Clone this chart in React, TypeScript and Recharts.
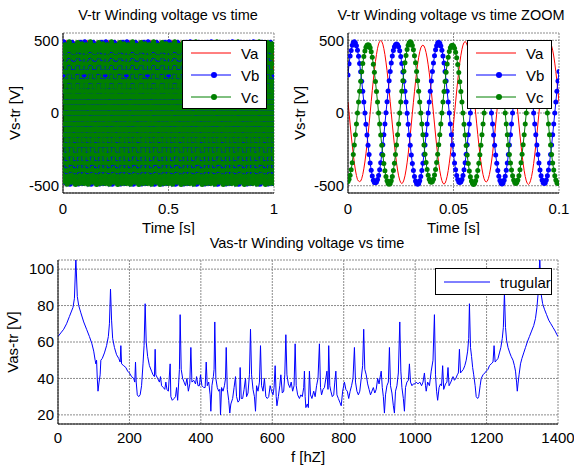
import { LineChart, Line, XAxis, YAxis, CartesianGrid, Legend } from "recharts";

// phase voltages, one sample every 0.5 ms over 0..0.1 s
const Va = [
  76, 0, -76, -150, -220, -285, -343, -392, -430, -458, -468, -472, -468, -451, -423, -384, -337, -281, -217, -148,
  -75, 0, 78, 154, 226, 293, 353, 403, 445, 475, 492,
  498, 492, 473, 442, 401, 350, 291, 225, 153, 78, 0, -76, -150, -220, -285, -343, -392, -432, -461, -479,
  -485, -479, -461, -432, -392, -343, -285, -220, -150, -76, 0, 74, 146, 215, 279, 336, 383, 421, 448, 462,
  466, 461, 444, 416, 378, 331, 276, 213, 145, 74, 0, -76, -151, -222, -287, -346, -396, -436, -465, -483,
  -489, -483, -464, -435, -395, -345, -287, -221, -150, -76, 0, 76, 151, 222, 288, 347, 397, 437, 467, 485,
  491, 485, 466, 437, 397, 347, 289, 223, 152, 77, 0, -75, -147, -216, -280, -337, -385, -424, -452, -469,
  -474, -469, -452, -424, -385, -337, -280, -216, -147, -75, 0, 77, 151, 223, 289, 347, 397, 437, 466, 484,
  490, 484, 466, 436, 396, 346, 288, 222, 151, 76, 0, -76, -151, -222, -288, -347, -397, -437, -467, -485,
  -491, -485, -466, -437, -397, -346, -288, -222, -151, -76, 0, 76, 150, 220, 285, 343, 392, 432, 461, 479,
  485, 479, 461, 432, 392, 343, 285, 220, 150, 76,
];
const Vb = [
  262, 338, 392, 430, 466, 484,
  490, 481, 462, 431, 390, 341, 283, 218, 149, 75, 0, -77, -151, -221, -286, -344, -393, -433, -462, -477,
  -479, -475, -458, -430, -391, -342, -284, -219, -150, -76, 1, 77, 151, 221, 286, 344, 392, 430, 456, 470,
  474, 470, 456, 428, 389, 340, 282, 218, 149, 75, -1, -78, -152, -222, -288, -347, -396, -437, -467, -485,
  -490, -484, -465, -436, -395, -345, -286, -220, -149, -75, 0, 76, 150, 220, 285, 343, 393, 434, 463, 481,
  486, 480, 461, 432, 392, 343, 285, 220, 150, 76, 0, -76, -150, -220, -285, -343, -391, -430, -458, -474,
  -478, -473, -457, -429, -390, -342, -284, -219, -150, -76, 0, 75, 148, 217, 281, 338, 386, 425, 452, 466,
  470, 466, 452, 425, 386, 338, 281, 217, 148, 75, 0, -76, -151, -222, -288, -346, -395, -435, -464, -482,
  -488, -482, -463, -434, -393, -344, -286, -220, -150, -76, 0, 76, 150, 220, 285, 344, 393, 433, 463, 481,
  487, 481, 462, 433, 393, 344, 286, 221, 150, 76, 0, -76, -150, -220, -285, -343, -392, -432, -461, -479,
  -485, -479, -461, -432, -392, -343, -285, -220, -150, -76, 0, 76, 150, 220, 285,
];
const Vc = [
  -471, -455, -428, -390, -342, -285, -220, -150, -76, 0, 76, 150, 219, 283, 340, 388, 426, 452, 466,
  470, 465, 449, 421, 383, 336, 280, 216, 147, 75, 0, -76, -151, -222, -288, -347, -397, -437, -466, -485,
  -490, -484, -465, -436, -395, -345, -286, -220, -149, -75, 0, 76, 150, 221, 287, 346, 396, 436, 465, 483,
  489, 483, 464, 435, 394, 345, 286, 221, 150, 76, 0, -76, -150, -220, -284, -341, -389, -428, -456, -472,
  -476, -471, -455, -427, -388, -340, -283, -219, -149, -76, 0, 75, 148, 217, 281, 337, 384, 422, 449, 463,
  466, 461, 445, 418, 380, 334, 278, 215, 147, 75, 0, -77, -152, -223, -289, -348, -398, -438, -467, -485,
  -491, -485, -466, -437, -396, -346, -287, -221, -150, -76, 0, 76, 150, 220, 285, 343, 392, 432, 461, 479,
  485, 479, 461, 432, 392, 343, 285, 220, 150, 76, 0, -76, -150, -220, -285, -343, -392, -432, -461, -478,
  -484, -478, -460, -431, -391, -342, -284, -219, -149, -76, 0, 76, 149, 219, 283, 340, 388, 427, 455, 471,
  476, 470, 453, 425, 386, 338, 281, 217, 148, 75, 0, -76, -150, -220, -285, -343, -392, -432, -461, -479,
  -485, -479,
];
const SAMPLE_STEP = 0.0005;

// spectrum of Vas: [frequency Hz, amplitude V]
const spectrumPts: [number, number][] = [
  [0, 63], [8, 65], [16, 67], [24, 70], [32, 74], [38, 77], [42, 79], [46, 84], [50, 106], [54, 85], [58, 80],
  [64, 76], [72, 71], [80, 67], [88, 63], [95, 59], [100, 55], [104, 50], [106, 48], [108, 50], [110, 40], [112, 33],
  [115, 38], [118, 42], [120, 50], [124, 51], [130, 54], [136, 58], [141, 63], [144, 70], [147, 89], [150, 72],
  [153, 62], [158, 57], [164, 53], [170, 51], [174, 49], [176, 58], [178, 48], [184, 47], [190, 46], [195, 44],
  [200, 43], [206, 41], [212, 40], [215, 38], [217, 49], [219, 38], [222, 31], [226, 30], [230, 31], [234, 36],
  [238, 48], [241, 58], [244, 81], [247, 60], [251, 52], [256, 47], [262, 44], [266, 42], [270, 41], [272, 56],
  [274, 42], [279, 40], [284, 38], [287, 41], [290, 36], [295, 35], [299, 34], [302, 38], [305, 34], [309, 33],
  [314, 48], [316, 30], [320, 28], [325, 29], [329, 30], [332, 35], [335, 28], [338, 38], [340, 45], [342, 75],
  [345, 45], [349, 40], [353, 38], [357, 36], [361, 40], [365, 33], [369, 37], [372, 57], [375, 38], [380, 39],
  [385, 37], [388, 41], [392, 36], [396, 36], [399, 42], [403, 36], [408, 35], [412, 35], [415, 49], [418, 36],
  [422, 38], [426, 31], [428, 22], [431, 36], [435, 41], [437, 45], [439, 71], [442, 40], [446, 35], [450, 33],
  [453, 34], [455, 20], [458, 35], [462, 33], [466, 36], [469, 40], [471, 57], [474, 34], [478, 28], [481, 21],
  [484, 26], [489, 29], [493, 35], [497, 41], [500, 30], [504, 27], [508, 28], [510, 46], [513, 29], [517, 29],
  [521, 34], [525, 40], [528, 30], [532, 32], [536, 42], [539, 67], [542, 42], [546, 34], [550, 30], [553, 22],
  [556, 36], [560, 33], [564, 38], [567, 58], [570, 36], [574, 33], [578, 40], [582, 30], [586, 29], [590, 30],
  [594, 36], [598, 33], [602, 31], [605, 35], [608, 47], [611, 30], [613, 25], [617, 30], [621, 36], [624, 42],
  [628, 32], [632, 33], [635, 42], [638, 64], [641, 42], [645, 37], [649, 35], [653, 38], [657, 33], [661, 36],
  [664, 59], [667, 36], [671, 31], [676, 29], [680, 31], [684, 30], [688, 35], [690, 44], [692, 30], [694, 24],
  [698, 26], [701, 24], [704, 44], [707, 31], [711, 29], [716, 33], [720, 30], [724, 36], [728, 40], [732, 59],
  [735, 35], [738, 31], [742, 34], [746, 35], [750, 40], [753, 44], [756, 34], [758, 58], [761, 36], [764, 33],
  [768, 30], [772, 31], [775, 38], [778, 44], [781, 31], [785, 29], [789, 27], [793, 25], [797, 33], [802, 38],
  [806, 34], [810, 33], [814, 29], [818, 33], [822, 36], [826, 40], [830, 57], [833, 38], [837, 33], [841, 31],
  [845, 33], [849, 40], [853, 47], [856, 67], [859, 45], [863, 42], [867, 37], [871, 34], [875, 31], [879, 33],
  [883, 35], [887, 32], [891, 34], [895, 40], [899, 37], [903, 42], [905, 44], [908, 35], [911, 30], [914, 21],
  [917, 31], [921, 36], [925, 38], [928, 57], [931, 36], [935, 32], [939, 25], [942, 21], [945, 33], [949, 36],
  [953, 43], [957, 71], [960, 44], [963, 35], [967, 29], [970, 22], [973, 35], [977, 38], [981, 39], [984, 48],
  [987, 38], [991, 36], [995, 37], [999, 37], [1003, 38], [1008, 37], [1013, 38], [1018, 36], [1022, 38], [1026, 43],
  [1029, 36], [1031, 33], [1035, 38], [1040, 36], [1045, 44], [1050, 50], [1054, 75], [1057, 42], [1060, 33], [1063, 28],
  [1067, 35], [1071, 37], [1074, 36], [1077, 47], [1080, 34], [1085, 37], [1089, 38], [1092, 46], [1095, 36], [1100, 38],
  [1104, 40], [1106, 41], [1110, 39], [1114, 40], [1118, 42], [1121, 43], [1124, 56], [1127, 43], [1131, 44], [1135, 45],
  [1139, 47], [1143, 50], [1147, 55], [1150, 62], [1152, 81], [1155, 57], [1158, 52], [1161, 46], [1164, 42], [1168, 36],
  [1171, 30], [1175, 29], [1178, 30], [1182, 36], [1185, 40], [1190, 42], [1195, 43], [1199, 44], [1204, 45], [1208, 47],
  [1213, 48], [1218, 49], [1221, 58], [1224, 49], [1228, 50], [1232, 51], [1236, 54], [1240, 57], [1244, 62], [1247, 68],
  [1250, 87], [1253, 68], [1256, 61], [1260, 57], [1265, 54], [1269, 52], [1274, 50], [1278, 47], [1281, 44], [1284, 38],
  [1286, 33], [1288, 37], [1291, 42], [1295, 48], [1299, 51], [1304, 54], [1309, 57], [1314, 60], [1320, 63], [1326, 66],
  [1332, 69], [1337, 73], [1341, 79], [1345, 88], [1349, 106], [1353, 86], [1357, 81], [1362, 78], [1368, 75], [1374, 72],
  [1380, 70], [1386, 68], [1392, 66], [1397, 64], [1400, 63],
];

const voltTicks = [-500, 0, 500];
const fullTicks = [0, 0.5, 1];
const zoomTicks = [0, 0.05, 0.1];
const freqTicks = [0, 200, 400, 600, 800, 1000, 1200, 1400];
const ampTicks = [20, 40, 60, 80, 100];

const zoomData = Va.map((va, i) => ({ t: i * SAMPLE_STEP, va, vb: Vb[i], vc: Vc[i] }));
// the 1 s record is steady state, so the 0.1 s window above repeats through it
const fullData = Array.from({ length: 2001 }, (_, i) => {
  const j = i % 200;
  return { t: i * SAMPLE_STEP, va: Va[j], vb: Vb[j], vc: Vc[j] };
});
const spectrum = spectrumPts.map(([f, v]) => ({ f, v }));

const FONT = "'Liberation Sans', Arial, sans-serif";
const FS = 15;
const tickStyle = { fill: "#000", fontSize: FS };
const gridColor = "#8c8c8c";

type Entry = { value?: string; color?: string; payload?: { dot?: unknown } };

function legendBox(width: number, height: number, rowH: number, lineEnd: number) {
  return (props: { payload?: Entry[] }) => (
    <div
      style={{
        width,
        height,
        boxSizing: "border-box",
        border: "1px solid #000",
        background: "#fff",
        paddingTop: 1,
        fontSize: FS,
        fontFamily: FONT,
        color: "#000",
      }}
    >
      {(props.payload ?? []).map((e) => (
        <div key={e.value} style={{ display: "flex", alignItems: "center", height: rowH }}>
          <svg width={lineEnd + 10} height={rowH} style={{ flex: "none" }}>
            <line x1={8} x2={lineEnd} y1={rowH / 2} y2={rowH / 2} stroke={e.color} strokeWidth={1} />
            {e.payload?.dot ? <circle cx={(8 + lineEnd) / 2 + 3} cy={rowH / 2} r={3} fill={e.color} /> : null}
          </svg>
          <span>{e.value}</span>
        </div>
      ))}
    </div>
  );
}

function Title({ text, x, y }: { text: string; x: number; y: number }) {
  return (
    <div
      style={{
        position: "absolute",
        left: x - 150,
        top: y - 9,
        width: 300,
        textAlign: "center",
        fontSize: 14.5,
        lineHeight: "17px",
        color: "#000",
        whiteSpace: "nowrap",
      }}
    >
      {text}
    </div>
  );
}

type TimeProps = {
  data: { t: number; va: number; vb: number; vc: number }[];
  ticks: number[];
  width: number;
  left: number;
  lineW: number;
};

function TimePanel({ data, ticks, width, left, lineW }: TimeProps) {
  const dom: [number, number] = [ticks[0], ticks[ticks.length - 1]];
  return (
    <div style={{ position: "absolute", left, top: 0 }}>
      <LineChart width={width} height={235} data={data} margin={{ top: 33, right: width - 274, bottom: 0, left: 0 }}>
        <CartesianGrid stroke={gridColor} strokeDasharray="2 1" />
        <XAxis
          dataKey="t"
          type="number"
          domain={dom}
          ticks={ticks}
          allowDataOverflow
          height={42}
          tickSize={0}
          tickMargin={10}
          tick={tickStyle}
          axisLine={{ stroke: "#000" }}
          label={{ value: "Time [s]", position: "insideBottom", offset: 2, fill: "#000", fontSize: FS }}
        />
        <XAxis xAxisId="top" orientation="top" type="number" domain={dom} height={0} tick={false} tickLine={false} axisLine={{ stroke: "#000" }} />
        <YAxis
          type="number"
          domain={[-550, 550]}
          ticks={voltTicks}
          allowDataOverflow
          width={63}
          tickSize={0}
          tickMargin={4}
          tick={tickStyle}
          axisLine={{ stroke: "#000" }}
          label={{ value: "Vs-tr [V]", angle: -90, position: "insideLeft", offset: 15, fill: "#000", fontSize: FS, style: { textAnchor: "middle" } }}
        />
        <YAxis yAxisId="right" orientation="right" type="number" domain={[-550, 550]} width={0} tick={false} tickLine={false} axisLine={{ stroke: "#000" }} />
        <Line dataKey="va" name="Va" stroke="#ff0000" strokeWidth={lineW} dot={false} isAnimationActive={false} />
        <Line dataKey="vb" name="Vb" stroke="#0000ff" strokeWidth={lineW} dot={{ r: 2.5, fill: "#0000ff", stroke: "none" }} isAnimationActive={false} />
        <Line dataKey="vc" name="Vc" stroke="#008000" strokeWidth={lineW} dot={{ r: 2.5, fill: "#008000", stroke: "none" }} isAnimationActive={false} />
        <Legend
          layout="vertical"
          align="center"
          verticalAlign="middle"
          wrapperStyle={{ left: 182, top: 40, width: 85, height: 69 }}
          content={legendBox(85, 69, 22, 48)}
        />
      </LineChart>
    </div>
  );
}

export default function App() {
  return (
    <div style={{ position: "absolute", left: 0, top: 0, width: 574, height: 465, background: "#fff", fontFamily: FONT }}>
      <Title text="V-tr Winding voltage vs time" x={168} y={16} />
      <Title text="V-tr Winding voltage vs time ZOOM" x={451} y={16} />
      <Title text="Vas-tr Winding voltage vs time" x={307} y={244} />
      <TimePanel data={fullData} ticks={fullTicks} width={285} left={0} lineW={2.5} />
      <TimePanel data={zoomData} ticks={zoomTicks} width={289} left={285} lineW={1} />
      <div style={{ position: "absolute", left: 0, top: 235 }}>
        <LineChart width={574} height={230} data={spectrum} margin={{ top: 25, right: 16, bottom: 0, left: 0 }}>
          <CartesianGrid stroke={gridColor} strokeDasharray="2 1" />
          <XAxis
            dataKey="f"
            type="number"
            domain={[0, 1400]}
            ticks={freqTicks}
            allowDataOverflow
            height={41}
            tickSize={0}
            tickMargin={8}
            tick={tickStyle}
            axisLine={{ stroke: "#000" }}
            label={{ value: "f [hZ]", position: "insideBottom", offset: 3, fill: "#000", fontSize: FS }}
          />
          <XAxis xAxisId="top" orientation="top" type="number" domain={[0, 1400]} height={0} tick={false} tickLine={false} axisLine={{ stroke: "#000" }} />
          <YAxis
            type="number"
            domain={[15, 105]}
            ticks={ampTicks}
            allowDataOverflow
            width={58}
            tickSize={0}
            tickMargin={4}
            tick={tickStyle}
            axisLine={{ stroke: "#000" }}
            label={{ value: "Vas-tr [V]", angle: -90, position: "insideLeft", offset: 13, fill: "#000", fontSize: FS, style: { textAnchor: "middle" } }}
          />
          <YAxis yAxisId="right" orientation="right" type="number" domain={[15, 105]} width={0} tick={false} tickLine={false} axisLine={{ stroke: "#000" }} />
          <Line dataKey="v" name="trugular" stroke="#0000ff" strokeWidth={1} dot={false} isAnimationActive={false} />
          <Legend
            layout="vertical"
            align="center"
            verticalAlign="middle"
            wrapperStyle={{ left: 435, top: 33, width: 117, height: 27 }}
            content={legendBox(117, 27, 24, 54)}
          />
        </LineChart>
      </div>
    </div>
  );
}
